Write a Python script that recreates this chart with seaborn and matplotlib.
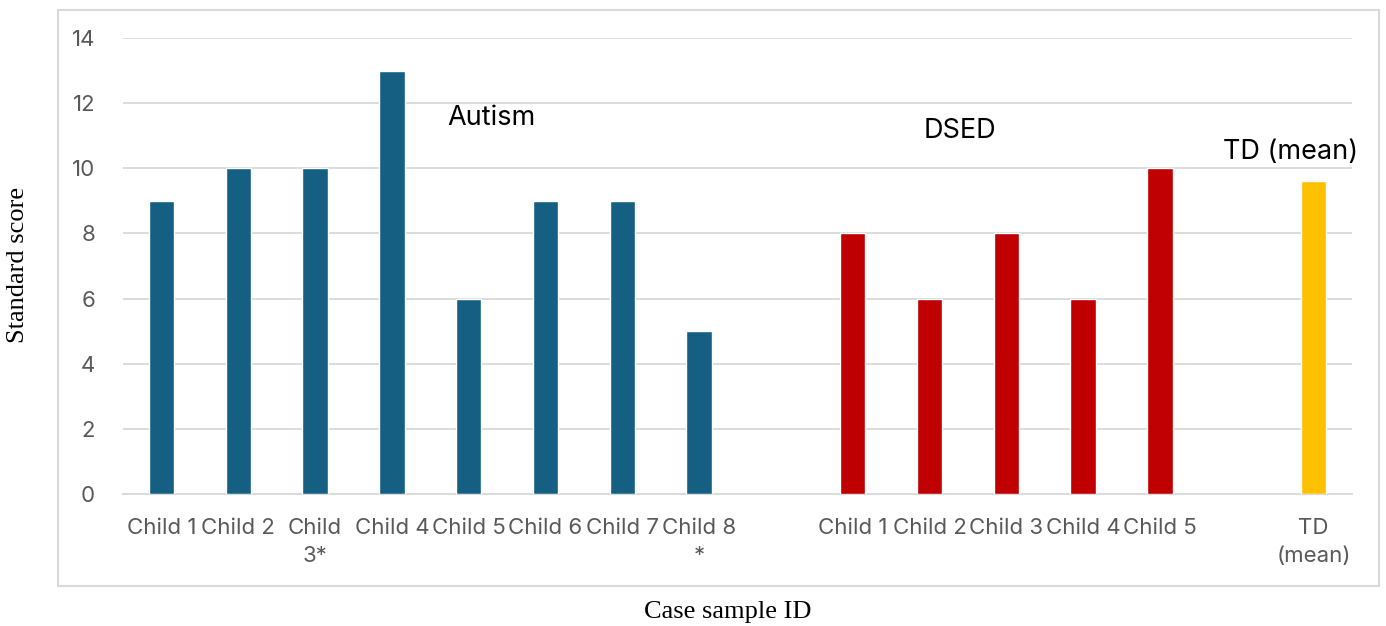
import matplotlib
matplotlib.use("Agg")
import matplotlib.pyplot as plt
from matplotlib.patches import Rectangle
import numpy as np
import pandas as pd
import seaborn as sns

# Scores per case
autism_labels = ["Child 1", "Child 2", "Child\n3*", "Child 4", "Child 5",
                 "Child 6", "Child 7", "Child 8\n*"]
autism_scores = [9, 10, 10, 13, 6, 9, 9, 5]
dsed_labels = ["Child 1", "Child 2", "Child 3", "Child 4", "Child 5"]
dsed_scores = [8, 6, 8, 6, 10]
td_labels = ["TD\n(mean)"]
td_scores = [9.6]
y_ticks = [0, 2, 4, 6, 8, 10, 12, 14]

colors = {"Autism": "#156082", "DSED": "#C00000", "TD": "#FFC000"}

sns.set_theme(style="white")
plt.rcParams["font.family"] = ["Inter", "DejaVu Sans"]

# slot layout: one empty slot between groups
pos_autism = np.arange(len(autism_scores))
pos_dsed = pos_autism[-1] + 2 + np.arange(len(dsed_scores))
pos_td = pos_dsed[-1] + 2 + np.arange(len(td_scores))

df = pd.DataFrame({
    "pos": np.concatenate([pos_autism, pos_dsed, pos_td]),
    "score": autism_scores + dsed_scores + td_scores,
    "group": ["Autism"] * len(autism_scores) + ["DSED"] * len(dsed_scores) + ["TD"] * len(td_scores),
})

fig = plt.figure(figsize=(13.86, 6.26), dpi=100)
# outer chart frame
fig.patches.append(Rectangle((58 / 1386, 1 - 586 / 626), (1379 - 58) / 1386, (586 - 10) / 626,
                             transform=fig.transFigure, fill=False,
                             edgecolor="#D9D9D9", linewidth=1.5, zorder=0))
ax = fig.add_axes([123 / 1386, 1 - 494 / 626, (1352 - 123) / 1386, (494 - 38) / 626])

sns.barplot(data=df, x="pos", y="score", hue="group", palette=colors,
            native_scale=True, dodge=False, width=0.33, legend=False,
            saturation=1, errorbar=None, ax=ax, zorder=3)

ax.set_xlim(-0.5, pos_td[-1] + 0.5)
ax.set_ylim(0, 14)
ax.set_yticks(y_ticks)
ax.set_xticks(np.concatenate([pos_autism, pos_dsed, pos_td]))
ax.set_xticklabels(autism_labels + dsed_labels + td_labels, linespacing=1.55)
ax.tick_params(axis="both", length=0, labelsize=16, labelcolor="#595959")
ax.tick_params(axis="x", pad=17)
ax.tick_params(axis="y", pad=20)
ax.grid(axis="y", color="#D9D9D9", linewidth=1.3, zorder=0)
ax.set_axisbelow(True)
for s in ["top", "right", "left"]:
    ax.spines[s].set_visible(False)
ax.spines["bottom"].set_color("#D9D9D9")
ax.spines["bottom"].set_linewidth(1.3)
ax.set_xlabel("")
ax.set_ylabel("")

# group labels
ax.text(3.72, 11.55, "Autism", fontsize=19.5, color="black", ha="left", va="center")
ax.text(pos_dsed[1] + 0.4, 11.15, "DSED", fontsize=19.5, color="black", ha="center", va="center")
ax.text(pos_td[0] - 0.3, 10.5, "TD (mean)", fontsize=19.5, color="black", ha="center", va="center")

fig.text(18 / 1386, 1 - 265 / 626, "Standard score", rotation=90, ha="center", va="center",
         fontsize=19, family="Liberation Serif", color="black")
fig.text(728 / 1386, 1 - 612 / 626, "Case sample ID", ha="center", va="center",
         fontsize=19, family="Liberation Serif", color="black")

fig.savefig("out.png", dpi=100, facecolor="white")
